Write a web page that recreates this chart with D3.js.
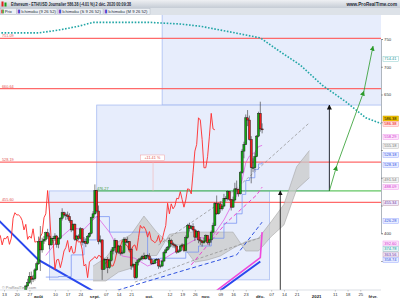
<!DOCTYPE html>
<html>
<head>
<meta charset="utf-8">
<script src="https://cdn.jsdelivr.net/npm/d3@7/dist/d3.min.js"></script>
<style>
body { margin: 0; background: #fff; }
svg { display: block; font-family: "Liberation Sans", "DejaVu Sans", sans-serif; }
</style>
</head>
<body>
<script>
// ETH/USD daily, 20 Jul 2020 -> 2 Dec 2020
var firstDay = "2020-07-20";
var opens = [
  239,236,245,263,275,279,305,311,322,317,318,334,
  345,385,370,386,389,401,395,379,391,390,395,380,391,427,437,433,433,430,423,406,416,389,395,391,408,384,385,382,394,400,428,
  435,477,440,385,388,335,352,353,338,351,368,374,387,366,377,364,365,389,384,385,371,341,344,320,348,352,354,358,354,360,
  359,353,346,346,352,353,341,341,350,365,370,375,387,381,379,377,366,368,377,379,369,392,414,409,412,406,393,403,388,386,383,
  386,396,383,388,402,414,454,435,453,444,449,463,462,475,461,447,460,480,479,471,509,548,560,608,604,569,518,518,538,575,
  616,588
];
var closes = [
  236,245,263,275,279,305,311,322,317,318,334,345,
  385,370,386,389,401,395,379,391,390,395,380,391,427,437,433,433,430,423,406,416,389,395,391,408,384,385,382,394,400,428,435,
  477,440,385,388,335,352,353,338,351,368,374,387,366,377,364,365,389,384,385,371,341,344,320,348,352,354,358,354,360,359,
  353,346,346,352,353,341,341,350,365,370,375,387,381,379,377,366,368,377,379,369,392,414,409,412,406,393,403,388,386,383,386,
  396,383,388,402,414,454,435,453,444,449,463,462,475,461,447,460,480,479,471,509,548,560,608,604,569,518,518,538,575,616,
  588,586.38
];
var highs = [
  242,249,266,279,284,307,318,330,331,325,337,349,
  394,413,392,395,403,408,400,392,395,400,397,393,429,445,439,437,439,436,424,418,418,397,398,411,409,393,391,397,402,430,440,
  488,478,450,396,389,356,354,357,354,372,375,391,388,379,379,369,393,391,393,386,374,346,345,352,355,357,361,365,361,362,
  364,356,350,353,355,355,344,352,368,374,377,392,390,384,381,379,370,379,382,381,396,417,419,415,418,408,406,405,393,388,392,
  398,397,390,405,419,456,468,455,458,452,471,467,477,476,462,466,491,495,480,512,552,565,614,622,612,575,535,545,577,619,
  637,598
];
var lows = [
  232,234,244,261,272,277,302,309,308,312,315,332,
  343,332,365,381,385,390,371,378,382,386,374,373,389,423,429,424,425,419,402,404,386,386,387,389,378,382,375,380,392,398,425,
  433,436,380,382,316,334,336,328,336,349,362,370,362,363,360,362,363,379,382,368,334,338,317,318,342,350,351,352,352,355,
  351,343,344,345,350,336,337,339,348,363,368,371,376,374,373,363,365,366,375,366,367,390,403,407,403,386,392,382,379,376,381,
  384,380,378,383,400,413,433,434,437,441,447,457,459,458,441,446,457,470,466,470,507,535,559,593,567,490,510,513,537,573,
  583,580
];

// Ichimoku (9 26 52) lines, sampled
var lineDates = ["2020-08-05","2020-08-12","2020-08-19","2020-08-26","2020-09-02","2020-09-09","2020-09-16","2020-09-23","2020-09-30",
  "2020-10-07","2020-10-14","2020-10-21","2020-10-28","2020-11-04","2020-11-11","2020-11-18","2020-11-21","2020-11-23","2020-11-25",
  "2020-11-28","2020-11-30","2020-12-02"];
var tenkan = [360,389,409,407,431,402,359,355,341,350,364,379,392,391,424,468,496,527,539,546,556,558.29];
var kijun = [321,322,361,388,430,402,402,402,354,355,355,366,377,391,418,435,470,495,500,515,525,528.18];
var cloudDates = ["2020-08-31","2020-09-07","2020-09-14","2020-09-21","2020-09-28","2020-10-05","2020-10-12","2020-10-19","2020-10-26",
  "2020-11-02","2020-11-09","2020-11-16","2020-11-23","2020-11-30","2020-12-07","2020-12-14","2020-12-21","2020-12-28"];
var spanA = [341,356,385,398,431,402,381,378,348,352,359,373,385,391,421,452,520,549];
var spanB = [314,314,330,337,359,360,398,402,402,402,402,402,368,368,394,415,479,500];

// weekly / monthly Ichimoku lines
var weekGrayA = [["2020-10-06",379],["2020-11-09",455],["2020-12-28",599]];
var weekGrayB = [["2020-09-23",312],["2020-10-26",352],["2020-12-02",393]];
var weekBlue = [["2020-09-10",294],["2020-10-24",337],["2020-11-18",361],["2020-12-02",420]];
var weekPink = [["2020-10-24",343],["2020-11-12",418],["2020-11-29",469],["2020-12-02",483]];
var monthBlue = [["2020-07-01",453],["2020-08-01",352],["2020-09-01",294],["2020-10-01",255],["2020-11-01",278],["2020-12-01",349]];
var monthPink = [["2020-10-01",262],["2020-11-01",282],["2020-12-01",356],["2020-12-02",402]];
var monthTeal = [["2020-07-01",761],["2020-08-01",761],["2020-08-12",766],["2020-08-23",773],["2020-08-31",780],["2020-10-01",780],
  ["2020-10-18",777],["2020-10-29",773],["2020-11-14",763],["2020-12-01",752],["2020-12-12",727],["2020-12-23",703],
  ["2021-01-04",667],["2021-01-17",637],["2021-01-28",608],["2021-02-06",597]];

// drawn objects
var redLevels = [751.09, 660.64, 528.19, 455.60];
var greenLevel = 476.27, greenFrom = "2020-09-01";
var zones = [["2020-10-08","2021-02-20",840,631],["2020-09-02","2021-01-08",631,476.27],["2020-08-07","2020-12-06",476.27,316]];
var blackArrows = [["2020-12-12",290,476.27],["2021-01-08",476.27,631]];
var greenArrow = [["2021-01-08",476.27],["2021-01-12",521],["2021-01-27",656],["2021-02-01",737]];

// axis
var priceTicks = [800,750,700,650,600,550,500,450,400,350];
var priceTickLabels = [800,750,700,650,400];
var dayTicks = ["2020-07-13","2020-07-20","2020-07-27","2020-08-10","2020-08-17","2020-08-24","2020-09-07","2020-09-14","2020-09-21",
  "2020-10-12","2020-10-19","2020-10-26","2020-11-09","2020-11-16","2020-11-23","2020-12-07","2020-12-14","2020-12-21",
  "2021-01-11","2021-01-18","2021-01-25"];
var monthTicks = ["2020-08-01","2020-09-01","2020-10-01","2020-11-01","2020-12-01","2021-01-01","2021-02-01"];
var monthNames = ["août","sept.","oct.","nov.","déc.","2021","févr."];
var tagValues = ["714.41","586.38","586.38","558.29","555.18","528.18","528.18","491.54","488.09","455.34","426.28","392.60","374.78","363.56","358.74"];

// tag layout (stacked like the platform does)
var tagTop = [59,118.5,124,137,146,155,165,180,187,203,221,243.5,249,254.5,260];
var tagStyle = [
  ["#1a9a9a","#fff","#8cc"],["#000","#f2c400","#c9a000"],["#e00","#ffe4e4","#f99"],["#d02cd0","#fde6fb","#e9e"],
  ["#777","#f2f2f2","#bbb"],["#3050e0","#e9edff","#9af"],["#3050e0","#e9edff","#9af"],["#777","#f2f2f2","#bbb"],
  ["#d02cd0","#fde6fb","#e9e"],["#7040a0","#f1e9fb","#b9a"],["#3050e0","#e9edff","#9af"],["#d02cd0","#fde6fb","#e9e"],
  ["#1a9a9a","#e6f6f6","#8cc"],["#7040a0","#f1e9fb","#b9a"],["#3050e0","#e9edff","#9af"]];

var w = 400, h = 300;
var pl = 0, pr = 381, pt = 15, pb = 290;
var parse = d3.timeParse("%Y-%m-%d");

var x = d3.scaleTime().domain([parse("2020-07-13"), parse("2021-02-01")]).range([4, 373]);
var y = d3.scaleLinear().domain([750, 400]).range([39, 233.25]);

var day0 = parse(firstDay);
var days = closes.map(function(c, i) { return d3.timeDay.offset(day0, i); });

var svg = d3.select("body").append("svg").attr("width", w).attr("height", h);
var defs = svg.append("defs");
defs.append("clipPath").attr("id", "clip").append("rect")
  .attr("x", pl).attr("y", pt).attr("width", pr - pl).attr("height", pb - pt);
function marker(id, col) {
  defs.append("marker").attr("id", id).attr("viewBox", "0 0 10 10")
    .attr("refX", 9).attr("refY", 5).attr("markerUnits", "userSpaceOnUse")
    .attr("markerWidth", 5).attr("markerHeight", 5).attr("orient", "auto")
    .append("path").attr("d", "M0,0L10,5L0,10z").attr("fill", col);
}
marker("ab", "#111");
marker("ag", "#2a9a2a");
var grad = defs.append("linearGradient").attr("id", "hdr").attr("x1", 0).attr("y1", 0).attr("x2", 0).attr("y2", 1);
grad.append("stop").attr("offset", 0).attr("stop-color", "#eef0f3");
grad.append("stop").attr("offset", 1).attr("stop-color", "#c5ccd5");

var plot = svg.append("g").attr("clip-path", "url(#clip)");

// zones
plot.selectAll("rect.zone").data(zones).enter().append("rect")
  .attr("class", "zone")
  .attr("x", function(d) { return x(parse(d[0])); })
  .attr("width", function(d) { return x(parse(d[1])) - x(parse(d[0])); })
  .attr("y", function(d) { return y(d[2]); })
  .attr("height", function(d) { return y(d[3]) - y(d[2]); })
  .attr("fill", "#dfe7fb").attr("fill-opacity", 0.75)
  .attr("stroke", "#a9bdf2").attr("stroke-width", 0.8);

// horizontal levels
plot.selectAll("line.red").data(redLevels).enter().append("line")
  .attr("x1", pl).attr("x2", pr)
  .attr("y1", function(d) { return y(d); }).attr("y2", function(d) { return y(d); })
  .attr("stroke", "#ff5a5a").attr("stroke-width", 1.3).attr("stroke-opacity", 0.9);
plot.selectAll("text.red").data(redLevels).enter().append("text")
  .attr("x", 2).attr("y", function(d) { return y(d) - 1; })
  .attr("font-size", 3.8).attr("fill", "#e05050")
  .text(function(d) { return d.toFixed(2); });
plot.append("line")
  .attr("x1", x(parse(greenFrom))).attr("x2", pr)
  .attr("y1", y(greenLevel)).attr("y2", y(greenLevel))
  .attr("stroke", "#3cb83c").attr("stroke-width", 1);
plot.append("text").attr("x", x(parse(greenFrom)) + 2).attr("y", y(greenLevel) - 1)
  .attr("font-size", 3.8).attr("fill", "#3a9a3a").text(greenLevel.toFixed(2));

// measure box
plot.append("line").attr("x1", x(parse("2020-10-03"))).attr("x2", x(parse("2020-10-03")))
  .attr("y1", y(528.19)).attr("y2", y(greenLevel)).attr("stroke", "#f3b4b4").attr("stroke-width", 0.6);
plot.append("rect").attr("x", x(parse("2020-09-26"))).attr("y", y(541))
  .attr("width", 24).attr("height", 5.5).attr("fill", "#fff").attr("stroke", "#f3a0a0").attr("stroke-width", 0.5);
plot.append("text").attr("x", x(parse("2020-09-26")) + 12).attr("y", y(541) + 4.2)
  .attr("text-anchor", "middle").attr("font-size", 3.8).attr("fill", "#e05050").text("+11.41 %");

// cloud
var cloud = cloudDates.map(function(d, i) { return {d: parse(d), a: spanA[i], b: spanB[i]}; });
plot.append("path").datum(cloud)
  .attr("d", d3.area().x(function(d) { return x(d.d); }).y0(function(d) { return y(d.a); }).y1(function(d) { return y(d.b); }))
  .attr("fill", "#c9c9c9").attr("fill-opacity", 0.75);
["a", "b"].forEach(function(k) {
  plot.append("path").datum(cloud)
    .attr("d", d3.line().x(function(d) { return x(d.d); }).y(function(d) { return y(d[k]); }))
    .attr("fill", "none").attr("stroke", "#9a9a9a").attr("stroke-width", 0.5);
});

var pline = d3.line().x(function(d) { return x(parse(d[0])); }).y(function(d) { return y(d[1]); });
function drawPts(pts, col, wid, dash) {
  plot.append("path").datum(pts).attr("d", pline)
    .attr("fill", "none").attr("stroke", col).attr("stroke-width", wid)
    .attr("stroke-dasharray", dash);
}
drawPts(weekGrayA, "#8c8c8c", 0.7, "3,2");
drawPts(weekGrayB, "#8c8c8c", 0.7, "3,2");
drawPts(weekBlue, "#2f52e0", 1, "4,2.5");
drawPts(weekPink, "#ec48d0", 1, "4,2.5");
drawPts(monthBlue, "#2a48ee", 2, null);
drawPts(monthPink, "#ee48dc", 1.6, null);
drawPts(monthTeal, "#22a6a6", 1.6, "1.6,1.6");

// tenkan / kijun
var tk = lineDates.map(function(d, i) { return [d, tenkan[i]]; });
var kj = lineDates.map(function(d, i) { return [d, kijun[i]]; });
plot.append("path").datum(kj)
  .attr("d", d3.line().curve(d3.curveStepAfter).x(function(d) { return x(parse(d[0])); }).y(function(d) { return y(d[1]); }))
  .attr("fill", "none").attr("stroke", "#6f8cf2").attr("stroke-width", 0.7);
drawPts(tk, "#e04ee0", 0.7, null);

// chikou (close shifted back 26 days)
plot.append("path").datum(closes)
  .attr("d", d3.line().x(function(d, i) { return x(d3.timeDay.offset(days[i], -26)); }).y(function(d) { return y(d); }))
  .attr("fill", "none").attr("stroke", "#ff2a2a").attr("stroke-width", 0.9);

// candles
var cw = 2.1;
var candle = plot.selectAll("g.c").data(closes).enter().append("g");
candle.append("line")
  .attr("x1", function(d, i) { return x(days[i]); }).attr("x2", function(d, i) { return x(days[i]); })
  .attr("y1", function(d, i) { return y(highs[i]); }).attr("y2", function(d, i) { return y(lows[i]); })
  .attr("stroke", "#333").attr("stroke-width", 0.6);
candle.append("rect")
  .attr("x", function(d, i) { return x(days[i]) - cw / 2; })
  .attr("width", cw)
  .attr("y", function(d, i) { return y(Math.max(opens[i], d)); })
  .attr("height", function(d, i) { return Math.max(0.6, Math.abs(y(opens[i]) - y(d))); })
  .attr("fill", function(d, i) { return d >= opens[i] ? "#12a812" : "#f01e1e"; })
  .attr("stroke", "#1a1a1a").attr("stroke-width", 0.45);

// arrows
plot.selectAll("line.ab").data(blackArrows).enter().append("line")
  .attr("x1", function(d) { return x(parse(d[0])); }).attr("x2", function(d) { return x(parse(d[0])); })
  .attr("y1", function(d) { return y(d[1]); }).attr("y2", function(d) { return y(d[2]); })
  .attr("stroke", "#222").attr("stroke-width", 0.9).attr("marker-end", "url(#ab)");
for (var i = 1; i < greenArrow.length; i++) {
  plot.append("line")
    .attr("x1", x(parse(greenArrow[i - 1][0]))).attr("y1", y(greenArrow[i - 1][1]))
    .attr("x2", x(parse(greenArrow[i][0]))).attr("y2", y(greenArrow[i][1]))
    .attr("stroke", "#2a9a2a").attr("stroke-width", 0.8).attr("marker-end", "url(#ag)");
}

// right axis
svg.append("rect").attr("x", pr).attr("y", 8).attr("width", w - pr).attr("height", h - 8).attr("fill", "#fff");
var ya = svg.append("g").attr("transform", "translate(" + pr + ",0)")
  .call(d3.axisRight(y).tickValues(priceTicks).tickSize(2).tickPadding(1)
    .tickFormat(function(d) { return priceTickLabels.indexOf(d) >= 0 ? d : ""; }));
ya.select(".domain").attr("stroke", "#9aa3ad").attr("stroke-width", 0.8);
ya.selectAll(".tick line").attr("stroke", "#555").attr("stroke-width", 0.5);
ya.selectAll("text").attr("font-size", 4.3).attr("fill", "#333").attr("font-family", "Liberation Sans");

var tags = svg.selectAll("g.tag").data(tagValues).enter().append("g")
  .attr("transform", function(d, i) { return "translate(383," + (tagTop[i] - 2.5) + ")"; });
tags.append("rect").attr("width", 15.5).attr("height", 5)
  .attr("fill", function(d, i) { return tagStyle[i][1]; })
  .attr("stroke", function(d, i) { return tagStyle[i][2]; }).attr("stroke-width", 0.5);
tags.append("text").attr("x", 1.2).attr("y", 3.9).attr("font-size", 4)
  .attr("fill", function(d, i) { return tagStyle[i][0]; }).text(function(d) { return d; });

// bottom axis
svg.append("line").attr("x1", 0).attr("x2", pr).attr("y1", pb).attr("y2", pb).attr("stroke", "#c5cbd3").attr("stroke-width", 0.6);
var xa = svg.append("g").attr("transform", "translate(0," + pb + ")")
  .call(d3.axisBottom(x).tickValues(dayTicks.map(parse)).tickFormat(d3.timeFormat("%d")).tickSize(1.5).tickPadding(1.5));
xa.select(".domain").remove();
xa.selectAll(".tick line").attr("stroke", "#777").attr("stroke-width", 0.4);
xa.selectAll("text").attr("font-size", 4.3).attr("fill", "#333").attr("font-family", "Liberation Sans");
svg.selectAll("text.month").data(monthTicks).enter().append("text")
  .attr("x", function(d) { return x(parse(d)); }).attr("y", pb + 7.8)
  .attr("text-anchor", "middle").attr("font-size", 4.3).attr("font-weight", "bold").attr("fill", "#222")
  .text(function(d, i) { return monthNames[i]; });
svg.append("text").attr("x", 2).attr("y", pb - 1.5).attr("font-size", 3.8).attr("fill", "#8a8a8a").text("© ProRealTime.com");

// header
svg.append("rect").attr("x", 0).attr("y", 0).attr("width", w).attr("height", 8).attr("fill", "url(#hdr)");
svg.append("rect").attr("x", 0).attr("y", 8).attr("width", w).attr("height", 7).attr("fill", "#dde2e8");
svg.append("rect").attr("x", 1.5).attr("y", 1.5).attr("width", 2).attr("height", 5).attr("fill", "#e02020");
svg.append("rect").attr("x", 4.5).attr("y", 2.5).attr("width", 2).attr("height", 4).attr("fill", "#18a018");
svg.append("text").attr("x", 11).attr("y", 6).attr("font-size", 4.6).attr("font-weight", "bold").attr("fill", "#1e2a36")
  .attr("textLength", 120).attr("lengthAdjust", "spacingAndGlyphs")
  .text("Ethereum - ETH/USD Journalier 586.38 (-4.01 %) 2 déc. 2020 00:09:38");
svg.append("text").attr("x", 397).attr("y", 5.8).attr("text-anchor", "end").attr("font-size", 4.6).attr("font-weight", "bold")
  .attr("fill", "#1e2a36").text("www.ProRealTime.com");

var legend = [["Prix", 0.5, 16], ["Ichimoku (9 26 52)", 17, 40], ["Ichimoku (S 9 26 52)", 58, 45], ["Ichimoku (M 9 26 52)", 104, 46]];
var lg = svg.selectAll("g.lg").data(legend).enter().append("g")
  .attr("transform", function(d) { return "translate(" + d[1] + ",8.6)"; });
lg.append("rect").attr("width", function(d) { return d[2]; }).attr("height", 5.8)
  .attr("fill", "#eef1f5").attr("stroke", "#aab3be").attr("stroke-width", 0.4);
lg.append("rect").attr("x", 0.8).attr("y", 1).attr("width", 1.2).attr("height", 3.8)
  .attr("fill", function(d, i) { return i === 0 ? "#e02020" : "#8a3fc0"; });
lg.append("rect").attr("x", 2).attr("y", 1).attr("width", 1.2).attr("height", 3.8)
  .attr("fill", function(d, i) { return i === 0 ? "#18a018" : "#3a5ae0"; });
lg.append("text").attr("x", 4.2).attr("y", 4.4).attr("font-size", 4.2).attr("fill", "#1e2a36")
  .text(function(d) { return d[0]; });
</script>
</body>
</html>
